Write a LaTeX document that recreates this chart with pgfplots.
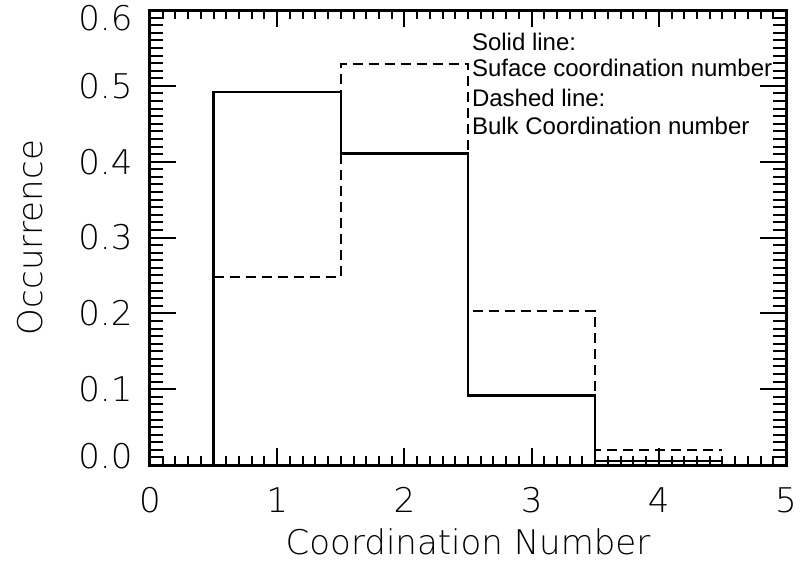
\documentclass[border=0pt]{standalone}
\usepackage{fontspec}
\usepackage{pgfplots}
\pgfplotsset{compat=1.18}
\setmainfont{DejaVu Sans ExtraLight}
\newfontfamily\annot{Liberation Sans}
\newcommand\idlsize{\fontsize{25.5}{30}\selectfont}
\pgfplotsset{common/.style={
  at={(0,0)}, anchor=south west, scale only axis,
  width=477pt, height=341.25pt,
  xmin=0, xmax=5, ymin=0, ymax=0.6,
  axis line style={line width=2.25pt, black},
  tick style={line width=1.5pt, black},
  tick align=inside, clip=false,
  tick label style={font=\idlsize, inner sep=0pt},
  /pgf/number format/assume math mode=true}}
\begin{document}
\begin{tikzpicture}
\begin{axis}[common,
  xtick={0,1,2,3,4,5}, minor x tick num=9,
  ytick=\empty,
  major tick length=12.75pt, minor tick length=6.4pt,
  xticklabel style={anchor=north, yshift=-16.5pt}]
\addplot[black, line width=1.9pt, const plot] coordinates {(0.5,0)(0.5,0.492)(1.5,0.411)(2.5,0.092)(3.5,0.005)(4.5,0.005)};
\addplot[black, line width=1.9pt, const plot, dash pattern=on 7.5pt off 4.5pt] coordinates {(0.5,0.248)(1.5,0.529)(2.5,0.203)(3.5,0.020)(4.5,0.020)};
\end{axis}
\begin{axis}[common,
  xtick=\empty,
  ytick={0,0.1,0.2,0.3,0.4,0.5,0.6}, minor y tick num=9,
  yticklabels={,0.1,0.2,0.3,0.4,0.5,},
  major tick length=19.5pt, minor tick length=9.5pt,
  yticklabel style={anchor=east, xshift=-13pt}]
\addplot[draw=none] coordinates {(0,0)};
\end{axis}
\node[anchor=east, inner sep=0pt, font=\idlsize] at (-13pt,335.25pt) {0.6};
\node[anchor=east, inner sep=0pt, font=\idlsize] at (-13pt,6.75pt) {0.0};
\node[rotate=90, anchor=base, font=\idlsize] at (-80.25pt,170.6pt) {Occurrence};
\node[anchor=base, font=\idlsize] at (238.5pt,-66.75pt) {Coordination Number};
\begin{scope}[every node/.style={anchor=base west, inner sep=0pt, font=\annot\fontsize{18}{21}\selectfont}]
\node at (241.3pt,311pt) {Solid line:};
\node at (241.3pt,291.2pt) {Suface coordination number};
\node at (241.3pt,269pt) {Dashed line:};
\node at (241.3pt,248pt) {Bulk Coordination number};
\end{scope}
\pgfresetboundingbox
\useasboundingbox (-112.5pt,-83.25pt) rectangle (487.5pt,348.75pt);
\end{tikzpicture}
\end{document}
